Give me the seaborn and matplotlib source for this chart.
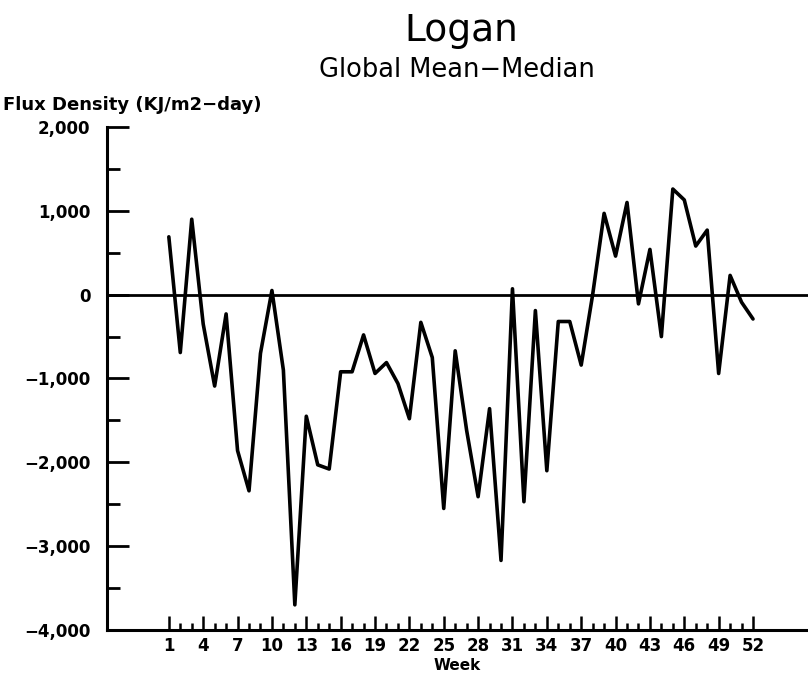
import matplotlib
matplotlib.use("Agg")
import matplotlib.pyplot as plt
from matplotlib.ticker import MultipleLocator, FixedLocator, FuncFormatter
import seaborn as sns
import pandas as pd

# data
weeks = list(range(1, 53))
mean_minus_median = [
    690, -690, 900, -350, -1090, -230, -1860, -2340, -700, 50,
    -900, -3700, -1450, -2030, -2080, -920, -920, -480, -940, -810,
    -1060, -1480, -330, -750, -2550, -670, -1620, -2410, -1360, -3170,
    70, -2470, -190, -2100, -320, -320, -840, 0, 970, 460,
    1100, -110, 540, -500, 1260, 1130, 580, 770, -940, 230,
    -90, -290,
]
week_labels = list(range(1, 53, 3))
y_ticks = [-4000, -3000, -2000, -1000, 0, 1000, 2000]

df = pd.DataFrame({"Week": weeks, "Flux": mean_minus_median})

sns.set_style("white")
plt.rcParams["font.family"] = ["DejaVu Sans"]
plt.rcParams["text.color"] = "black"
plt.rcParams["axes.labelcolor"] = "black"
plt.rcParams["xtick.color"] = "black"
plt.rcParams["ytick.color"] = "black"

fig = plt.figure(figsize=(8.08, 6.81), dpi=100)
ax = fig.add_axes([0.1324, 0.0749, 0.8676, 0.7386])

ax.axhline(0, color="black", linewidth=2.0, zorder=1)
sns.lineplot(data=df, x="Week", y="Flux", color="black", linewidth=2.6, ax=ax, zorder=2)

ax.set_xlim(-4.4, 56.8)
ax.set_ylim(-4000, 2000)

for side in ["top", "right"]:
    ax.spines[side].set_visible(False)
for side in ["left", "bottom"]:
    ax.spines[side].set_linewidth(2.2)
    ax.spines[side].set_color("black")

ax.set_xticks(week_labels)
ax.xaxis.set_minor_locator(FixedLocator(weeks))
ax.set_yticks(y_ticks)
ax.yaxis.set_minor_locator(MultipleLocator(500))

def fmt(v, pos):
    s = "{:,.0f}".format(abs(v))
    return ("\u2212" + s) if v < 0 else s

ax.yaxis.set_major_formatter(FuncFormatter(fmt))

ax.tick_params(axis="x", which="major", direction="in", length=10, width=1.8, pad=5,
               labelsize=12, bottom=True)
ax.tick_params(axis="x", which="minor", direction="in", length=5, width=1.8, bottom=True)
ax.tick_params(axis="y", which="major", direction="in", length=16, width=2.0, pad=12,
               labelsize=12, left=True)
ax.tick_params(axis="y", which="minor", direction="in", length=9.5, width=2.0, left=True)
for lab in ax.get_xticklabels() + ax.get_yticklabels():
    lab.set_fontweight("bold")

ax.set_xlabel("Week", fontsize=11, fontweight="bold", labelpad=2)
ax.set_ylabel("")
fig.text(0.004, 0.846, "Flux Density (KJ/m2\u2212day)", fontsize=13, fontweight="bold",
         ha="left", va="center")

fig.text(0.571, 0.955, "Logan", fontsize=27, ha="center", va="center")
fig.text(0.566, 0.897, "Global Mean\u2212Median", fontsize=18.5, ha="center", va="center")

fig.savefig("out.png", dpi=100)
